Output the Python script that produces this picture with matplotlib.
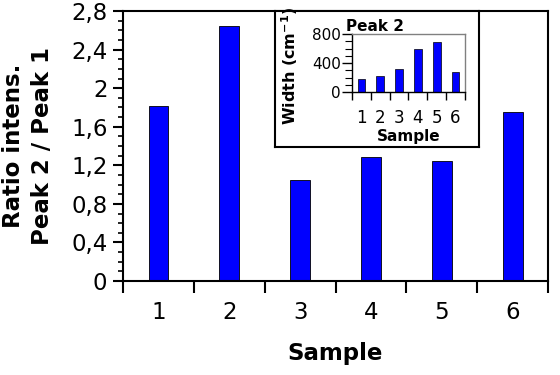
import numpy as np
import matplotlib
matplotlib.use('Agg')
import matplotlib.pyplot as plt
from matplotlib.ticker import MultipleLocator, FixedLocator, FuncFormatter

# data
samples = [1, 2, 3, 4, 5, 6]
ratio = [1.81, 2.64, 1.05, 1.29, 1.24, 1.75]
width_peak2 = [186, 219, 316, 595, 693, 274]

W, H = 560, 375


def px_axes(fig, x0, x1, y0, y1, **kw):
    # pixel box (top-left origin) -> figure fraction
    return fig.add_axes([x0 / W, (H - y1) / H, (x1 - x0) / W, (y1 - y0) / H], **kw)


def comma(v, pos):
    s = ('%.1f' % v).rstrip('0').rstrip('.')
    return s.replace('.', ',')


def setup_bar_axes(ax, lw, xlen, ylen, minor_len, xfs, yfs, xpad, ypad):
    ax.set_xlim(0.5, 6.5)
    ax.xaxis.set_major_locator(FixedLocator(np.arange(0.5, 7, 1)))
    ax.xaxis.set_major_formatter(FuncFormatter(lambda v, p: ''))
    ax.xaxis.set_minor_locator(FixedLocator(samples))
    ax.xaxis.set_minor_formatter(FuncFormatter(lambda v, p: '%d' % v))
    ax.tick_params(axis='x', which='major', direction='out', length=xlen, width=lw)
    ax.tick_params(axis='x', which='minor', length=0, labelsize=xfs, pad=xpad)
    ax.tick_params(axis='y', which='major', direction='out', length=ylen, width=lw,
                   labelsize=yfs, pad=ypad)
    ax.tick_params(axis='y', which='minor', direction='out', length=minor_len, width=lw * 0.8)
    for s in ax.spines.values():
        s.set_linewidth(lw)


fig = plt.figure(figsize=(W / 100, H / 100), dpi=100)

ax = px_axes(fig, 123, 548, 11, 281)
ax.bar(samples, ratio, width=0.28, color='#0000ff', edgecolor='black', linewidth=0.6)
ax.set_ylim(0, 2.8)
ax.yaxis.set_major_locator(MultipleLocator(0.4))
ax.yaxis.set_minor_locator(MultipleLocator(0.1))
ax.yaxis.set_major_formatter(FuncFormatter(comma))
setup_bar_axes(ax, 1.5, 8.6, 7.2, 3.6, 16.5, 16.5, 14.5, 4)
ax.set_xlabel('Sample', fontsize=16.5, fontweight='bold')
ax.xaxis.set_label_coords(0.5, -0.225)
ax.set_ylabel('Ratio intens.\nPeak 2 / Peak 1', fontsize=16.5, fontweight='bold',
              linespacing=1.3)
ax.yaxis.set_label_coords(-0.163, 0.5)

# framed box around inset
box = px_axes(fig, 275, 479, 11, 147)
box.set_xticks([])
box.set_yticks([])
box.set_facecolor('white')
for s in box.spines.values():
    s.set_linewidth(1.5)

ins = px_axes(fig, 352, 465, 34, 92)
ins.bar(samples, width_peak2, width=0.4, color='#0000ff', edgecolor='black', linewidth=0.5)
ins.set_ylim(0, 800)
ins.yaxis.set_major_locator(MultipleLocator(400))
ins.yaxis.set_minor_locator(MultipleLocator(100))
setup_bar_axes(ins, 1.0, 5.8, 7, 5, 12, 11, 12, 1)
ins.spines['top'].set_color('gray')
ins.spines['right'].set_color('gray')
ins.set_xlabel('Sample', fontsize=11, fontweight='bold')
ins.xaxis.set_label_coords(0.5, -0.64)
ins.set_ylabel('Width (cm$^{\\mathbf{-1}}$)', fontsize=11.5, fontweight='bold')
ins.yaxis.set_label_coords(-0.46, 0.45)
ins.set_title('Peak 2', fontsize=11, fontweight='bold', loc='left', pad=1, x=-0.05)

fig.savefig('out.png', dpi=100)
